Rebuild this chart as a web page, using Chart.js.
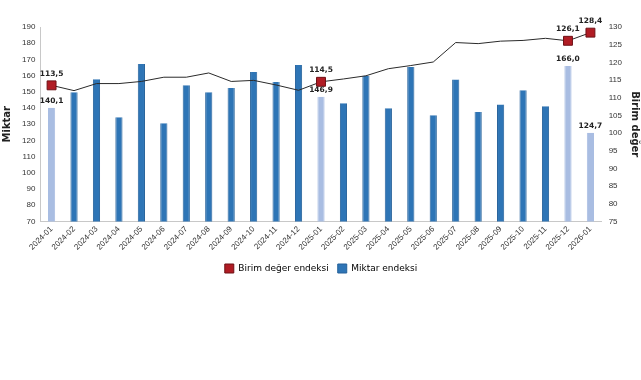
<!DOCTYPE html>
<html>
<head>
<meta charset="utf-8">
<script src="https://cdn.jsdelivr.net/npm/chart.js@4/dist/chart.umd.min.js"></script>
<style>
html,body{margin:0;padding:0;background:#fff;}
#wrap{width:641px;height:380px;position:relative;}
</style>
</head>
<body>
<div id="wrap"><canvas id="c" width="641" height="380"></canvas></div>
<script>
const categories = ["2024-01","2024-02","2024-03","2024-04","2024-05","2024-06","2024-07","2024-08","2024-09","2024-10","2024-11","2024-12","2025-01","2025-02","2025-03","2025-04","2025-05","2025-06","2025-07","2025-08","2025-09","2025-10","2025-11","2025-12","2026-01"];
const miktarEndeksi = [140.1,149.7,157.8,134.3,167.1,130.6,154.1,149.8,152.3,162.2,156.0,166.5,146.9,143.0,159.9,139.9,165.3,135.6,157.6,137.6,142.2,151.0,141.1,166.0,124.7];
const birimDegerEndeksi = [113.5,112.0,114.0,114.0,114.6,115.8,115.8,117.0,114.6,114.9,113.6,112.1,114.5,115.3,116.2,118.2,119.1,120.1,125.6,125.3,126.0,126.2,126.8,126.1,128.4];
const highlighted = [0,12,23,24];
const leftTicks = {min:70, max:190, step:10};
const rightTicks = {min:75, max:130, step:5};

const BAR = '#2E75B6', BAR_LIGHT = '#A9BDE2', RED = '#B01C24', RED_BORDER = '#6E1015';
const fmt = v => v.toFixed(1).replace('.', ',');
const TICK_FONT = '"Liberation Sans", Arial, sans-serif';

const labelPlugin = {
  id: 'valueLabels',
  afterDatasetsDraw(chart) {
    const ctx = chart.ctx;
    ctx.save();
    ctx.font = 'bold 7.5px "DejaVu Sans", sans-serif';
    ctx.fillStyle = '#222';
    ctx.textAlign = 'center';
    ctx.textBaseline = 'bottom';
    const lineMeta = chart.getDatasetMeta(0);
    const barMeta = chart.getDatasetMeta(1);
    highlighted.forEach(i => {
      const p = lineMeta.data[i];
      ctx.fillText(fmt(birimDegerEndeksi[i]), p.x, p.y - 8);
      const b = barMeta.data[i];
      ctx.fillText(fmt(miktarEndeksi[i]), b.x, b.y - 3);
    });
    ctx.restore();
  }
};

new Chart(document.getElementById('c'), {
  data: {
    labels: categories,
    datasets: [
      {
        type: 'line',
        label: 'Birim değer endeksi',
        data: birimDegerEndeksi,
        yAxisID: 'y1',
        borderColor: '#2a2a2a',
        borderWidth: 1,
        tension: 0,
        pointStyle: 'rect',
        pointRadius: birimDegerEndeksi.map((v,i) => highlighted.includes(i) ? 6.3 : 0),
        pointBackgroundColor: RED,
        pointBorderColor: RED_BORDER,
        pointBorderWidth: 1,
        order: 0
      },
      {
        type: 'bar',
        label: 'Miktar endeksi',
        data: miktarEndeksi,
        yAxisID: 'y',
        backgroundColor: miktarEndeksi.map((v,i) => highlighted.includes(i) ? BAR_LIGHT : BAR),
        borderColor: miktarEndeksi.map((v,i) => highlighted.includes(i) ? BAR_LIGHT : '#25619A'),
        borderWidth: {left:1, right:1, top:0, bottom:0},
        barPercentage: 0.32,
        categoryPercentage: 1,
        order: 1
      }
    ]
  },
  options: {
    responsive: false,
    animation: false,
    layout: {padding: {left: 1, right: 0, top: 27, bottom: 97}},
    plugins: {
      legend: {
        position: 'bottom',
        labels: {
          font: {size: 9, family: '"DejaVu Sans", sans-serif'},
          color: '#222',
          boxWidth: 9,
          boxHeight: 9,
          padding: 9,
          generateLabels: (chart) => [
            {text: 'Birim değer endeksi', fillStyle: RED, strokeStyle: RED_BORDER, lineWidth: 1, datasetIndex: 0},
            {text: 'Miktar endeksi', fillStyle: BAR, strokeStyle: '#25619A', lineWidth: 1, datasetIndex: 1}
          ]
        }
      },
      tooltip: {enabled: false}
    },
    scales: {
      x: {
        offset: true,
        grid: {display: false, drawTicks: false},
        border: {color: '#c8c8c8'},
        ticks: {
          maxRotation: 45, minRotation: 45, autoSkip: false,
          font: {size: 8, family: TICK_FONT},
          color: '#333', padding: 3
        }
      },
      y: {
        position: 'left',
        min: leftTicks.min, max: leftTicks.max,
        grid: {display: false, drawTicks: false},
        border: {color: '#c8c8c8'},
        ticks: {stepSize: leftTicks.step, font: {size: 8, family: TICK_FONT}, color: '#333', padding: 5},
        title: {display: true, text: 'Miktar', font: {size: 10, weight: 'bold', family: '"DejaVu Sans", sans-serif'}, color: '#222', padding: {top: 0, bottom: 4}}
      },
      y1: {
        position: 'right',
        min: rightTicks.min, max: rightTicks.max,
        grid: {display: false, drawTicks: false},
        border: {display: false},
        ticks: {stepSize: rightTicks.step, font: {size: 8, family: TICK_FONT}, color: '#333', padding: 7},
        title: {display: true, text: 'Birim değer', font: {size: 10, weight: 'bold', family: '"DejaVu Sans", sans-serif'}, color: '#222', padding: {top: 0, bottom: 0}}
      }
    }
  },
  plugins: [labelPlugin]
});
</script>
</body>
</html>
